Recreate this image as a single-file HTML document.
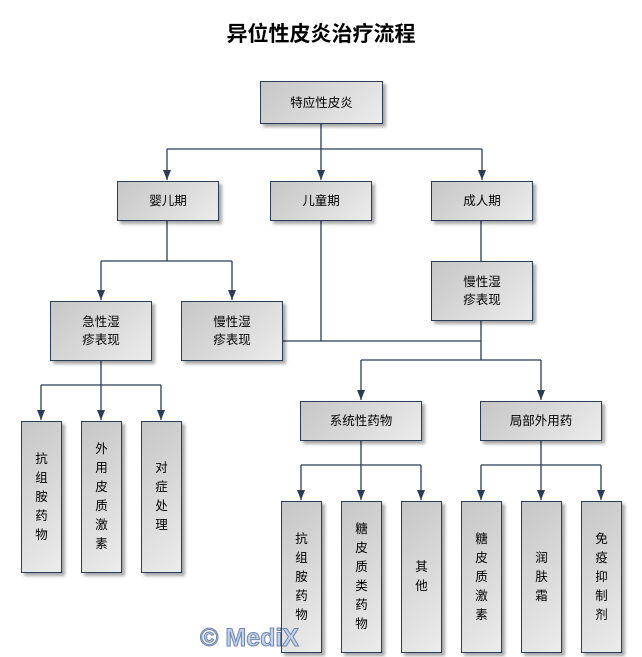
<!DOCTYPE html>
<html><head><meta charset="utf-8"><style>
body{margin:0;width:642px;height:657px;background:#fff;position:relative;overflow:hidden;font-family:"Liberation Sans","Noto Sans CJK SC",sans-serif;}
.t{position:absolute;left:0;width:642px;top:18px;text-align:center;font-size:21px;font-weight:bold;color:#000;}
.b{position:absolute;box-sizing:border-box;border:1px solid #2b3c55;background:linear-gradient(135deg,#c6c6c6,#ececec);box-shadow:3px 3px 3px rgba(0,0,0,0.35);display:flex;align-items:center;justify-content:center;text-align:center;font-size:12.5px;line-height:18px;color:#000;}
.v{line-height:19px;}
svg{position:absolute;left:0;top:0;}
.w{position:absolute;left:200px;top:624px;font-size:25px;font-weight:bold;color:#c5d3ea;-webkit-text-stroke:1px #6f86ad;font-family:"Liberation Sans",sans-serif;}
</style></head><body>
<div class="t">异位性皮炎治疗流程</div>
<svg width="642" height="657">
<defs><marker id="a" markerWidth="8" markerHeight="10" refX="4" refY="10" orient="0" markerUnits="userSpaceOnUse"><path d="M0,0 L8,0 L4,10 Z" fill="#2b3c55"/></marker></defs>
<g stroke="#2b3c55" stroke-width="1.3" fill="none">
<path d="M321,124V149M167,149H482"/>
<path d="M167,149V180" marker-end="url(#a)"/><path d="M321,149V180" marker-end="url(#a)"/><path d="M482,149V180" marker-end="url(#a)"/>
<path d="M167,221V261M101,261H232"/>
<path d="M101,261V300" marker-end="url(#a)"/><path d="M232,261V300" marker-end="url(#a)"/>
<path d="M481,221V261"/>
<path d="M321,221V341M283,341H481"/>
<path d="M481,321V360M361,360H541"/>
<path d="M361,360V400" marker-end="url(#a)"/><path d="M541,360V400" marker-end="url(#a)"/>
<path d="M101,361V385M41,385H161"/>
<path d="M41,385V420" marker-end="url(#a)"/><path d="M101,385V420" marker-end="url(#a)"/><path d="M161,385V420" marker-end="url(#a)"/>
<path d="M361,441V465M301,465H421"/>
<path d="M301,465V500" marker-end="url(#a)"/><path d="M361,465V500" marker-end="url(#a)"/><path d="M421,465V500" marker-end="url(#a)"/>
<path d="M541,441V465M481,465H601"/>
<path d="M481,465V500" marker-end="url(#a)"/><path d="M541,465V500" marker-end="url(#a)"/><path d="M601,465V500" marker-end="url(#a)"/>
</g></svg>
<div class="b" style="left:260px;top:81px;width:123px;height:43px">特应性皮炎</div>
<div class="b" style="left:117px;top:181px;width:102px;height:40px">婴儿期</div>
<div class="b" style="left:270px;top:181px;width:102px;height:40px">儿童期</div>
<div class="b" style="left:431px;top:181px;width:102px;height:40px">成人期</div>
<div class="b" style="left:50px;top:301px;width:102px;height:60px">急性湿<br>疹表现</div>
<div class="b" style="left:181px;top:301px;width:102px;height:60px">慢性湿<br>疹表现</div>
<div class="b" style="left:431px;top:261px;width:102px;height:60px">慢性湿<br>疹表现</div>
<div class="b" style="left:300px;top:401px;width:122px;height:40px">系统性药物</div>
<div class="b" style="left:480px;top:401px;width:122px;height:40px">局部外用药</div>
<div class="b v" style="left:21px;top:421px;width:41px;height:152px">抗<br>组<br>胺<br>药<br>物</div>
<div class="b v" style="left:81px;top:421px;width:41px;height:152px">外<br>用<br>皮<br>质<br>激<br>素</div>
<div class="b v" style="left:141px;top:421px;width:41px;height:152px">对<br>症<br>处<br>理</div>
<div class="b v" style="left:281px;top:501px;width:41px;height:152px">抗<br>组<br>胺<br>药<br>物</div>
<div class="b v" style="left:341px;top:501px;width:41px;height:152px">糖<br>皮<br>质<br>类<br>药<br>物</div>
<div class="b v" style="left:401px;top:501px;width:41px;height:152px">其<br>他</div>
<div class="b v" style="left:461px;top:501px;width:41px;height:152px">糖<br>皮<br>质<br>激<br>素</div>
<div class="b v" style="left:521px;top:501px;width:41px;height:152px">润<br>肤<br>霜</div>
<div class="b v" style="left:581px;top:501px;width:41px;height:152px">免<br>疫<br>抑<br>制<br>剂</div>
<div class="w">© MediX</div>
</body></html>
